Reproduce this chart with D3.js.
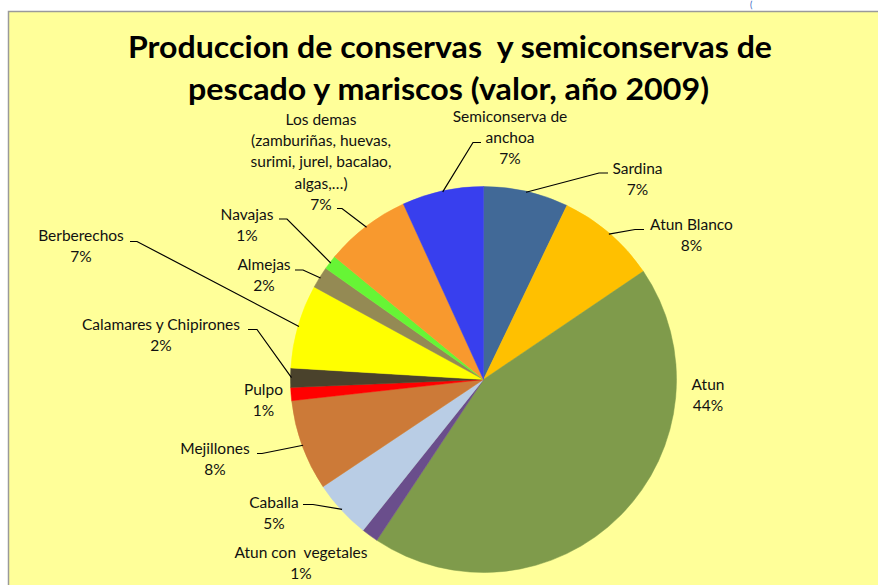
<!DOCTYPE html>
<html>
<head>
<meta charset="utf-8">
<script src="https://cdn.jsdelivr.net/npm/d3@7"></script>
<style>
  html, body { margin: 0; padding: 0; background: #ffffff; }
  svg { display: block; }
  text { font-family: Lato, "Noto Sans", sans-serif; }
</style>
</head>
<body>
<svg id="chart" width="878" height="585"></svg>
<script>
// ---- data ----
const categories = [
  "Sardina", "Atun Blanco", "Atun", "Atun con  vegetales", "Caballa",
  "Mejillones", "Pulpo", "Calamares y Chipirones", "Berberechos",
  "Almejas", "Navajas",
  "Los demas\n(zamburiñas, huevas,\nsurimi, jurel, bacalao,\nalgas,…)",
  "Semiconserva de\nanchoa"
];
const values = [7.1, 8.4, 43.7, 1.4, 4.9, 7.6, 1.1, 1.6, 7.0, 1.8, 1.2, 7.2, 6.8];
const colors = [
  "#416997", "#FFC000", "#7F9B4B", "#6A4E8C", "#B9CDE5",
  "#CC7A38", "#FF0000", "#4A422C", "#FFFF00",
  "#948A54", "#66F535", "#F8992E", "#383FEE"
];
const titleLines = [
  "Produccion de conservas  y semiconservas de",
  "pescado y mariscos (valor, año 2009)"
];

// ---- layout (label placement, not data) ----
// [center x, first baseline y, leader: text-side x, leader y, elbow x] (leader null if none)
const labelLayout = [
  [637.5, 173.5, [608, 173, 599]],
  [691.5, 230.0, [644, 229.5, 635]],
  [708.0, 389.5, null],
  [301.0, 557.5, null],
  [274.0, 507.5, [303, 504.5, 313]],
  [215.0, 453.5, [257, 453.5, 262]],
  [263.5, 394.5, null],
  [161.0, 329.5, [248, 329.5, 257]],
  [81.0, 240.5, [130, 241.5, 137]],
  [264.0, 270.0, [295, 270, 303]],
  [247.0, 219.5, [279, 219, 287]],
  [321.0, 125.0, [337, 208.5, 342]],
  [510.0, 121.5, [481, 142.5, 473]]
];

const W = 878, H = 585;
const cx = 483.5, cy = 379.5, R = 193;
const lineH = 21.2;

const svg = d3.select("#chart");

// background panel with border
svg.append("rect").attr("x", 0).attr("y", 0).attr("width", W).attr("height", H).attr("fill", "#ffffff");
svg.append("rect")
  .attr("x", 8.5).attr("y", 11.5).attr("width", W + 20).attr("height", H + 20)
  .attr("fill", "#FFFF99").attr("stroke", "#9a9a9a").attr("stroke-width", 1.5);
svg.append("text").attr("x", 750).attr("y", 8).attr("font-size", 9).attr("fill", "#3060c0").text("(");

// title
const titleY = [57.5, 100];
const titleW = [644, 521];
const titleX = [128, 188];
titleLines.forEach((t, i) => {
  svg.append("text")
    .attr("x", titleX[i]).attr("y", titleY[i])
    .attr("font-size", 31).attr("font-weight", 700)
    .attr("fill", "#000")
    .style("white-space", "pre")
    .attr("textLength", titleW[i]).attr("lengthAdjust", "spacingAndGlyphs")
    .text(t);
});

// pie
const total = d3.sum(values);
const pie = d3.pie().sort(null).value(d => d).startAngle(0).endAngle(2 * Math.PI);
const arcs = pie(values);
const arc = d3.arc().innerRadius(0).outerRadius(R);

const g = svg.append("g").attr("transform", `translate(${cx},${cy})`);
g.selectAll("path.slice").data(arcs).enter().append("path")
  .attr("class", "slice")
  .attr("d", arc)
  .attr("fill", (d, i) => colors[i])
  .attr("stroke", (d, i) => colors[i])
  .attr("stroke-width", 0.5);

// leader lines
arcs.forEach((d, i) => {
  const L = labelLayout[i];
  if (!L[2]) return;
  const mid = (d.startAngle + d.endAngle) / 2;
  const rx = cx + (R - 1) * Math.sin(mid);
  const ry = cy - (R - 1) * Math.cos(mid);
  const [tx, ty, ex] = L[2];
  svg.append("polyline")
    .attr("points", `${tx},${ty} ${ex},${ty} ${rx},${ry}`)
    .attr("fill", "none").attr("stroke", "#000").attr("stroke-width", 1.2);
});

// labels
arcs.forEach((d, i) => {
  const L = labelLayout[i];
  const lines = categories[i].split("\n");
  lines.push(Math.round(values[i] / total * 100) + "%");
  const t = svg.append("text")
    .attr("text-anchor", "middle")
    .attr("font-size", 15.5)
    .attr("fill", "#111")
    .style("white-space", "pre");
  lines.forEach((ln, k) => {
    t.append("tspan").attr("x", L[0]).attr("y", L[1] + k * lineH).text(ln);
  });
});
</script>
</body>
</html>
